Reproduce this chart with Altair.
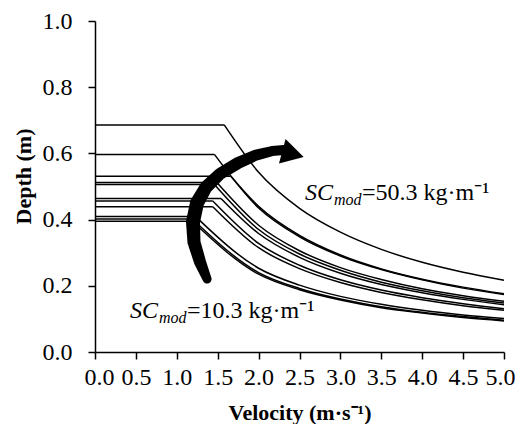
import altair as alt
import pandas as pd

# ---- data ----
plateau_depth = [0.686, 0.597, 0.531, 0.512, 0.506, 0.464, 0.456, 0.439, 0.409, 0.402, 0.395]
break_velocity = [1.58, 1.46, 1.66, 1.49, 1.46, 1.54, 1.44, 1.44, 1.23, 1.19, 1.19]
decay_velocity = [2.0, 2.5, 3.0, 3.5, 4.0, 4.5, 5.0]
decay_depth = [
    [0.543, 0.434, 0.362, 0.310, 0.271, 0.241, 0.217],
    [0.435, 0.348, 0.290, 0.249, 0.218, 0.193, 0.174],
    [0.440, 0.352, 0.293, 0.251, 0.220, 0.196, 0.176],
    [0.383, 0.306, 0.255, 0.219, 0.191, 0.170, 0.153],
    [0.370, 0.296, 0.247, 0.211, 0.185, 0.164, 0.148],
    [0.358, 0.286, 0.238, 0.204, 0.179, 0.159, 0.143],
    [0.328, 0.262, 0.218, 0.187, 0.164, 0.146, 0.131],
    [0.315, 0.252, 0.210, 0.180, 0.158, 0.140, 0.126],
    [0.253, 0.202, 0.168, 0.144, 0.126, 0.112, 0.101],
    [0.240, 0.192, 0.160, 0.137, 0.120, 0.107, 0.096],
    [0.235, 0.188, 0.157, 0.134, 0.118, 0.104, 0.094],
]

x_ticks = [0.0, 0.5, 1.0, 1.5, 2.0, 2.5, 3.0, 3.5, 4.0, 4.5, 5.0]
y_ticks = [0.0, 0.2, 0.4, 0.6, 0.8, 1.0]

# curved arrow (annotation) path in data units, with stroke width
arrow_v = [1.370, 1.284, 1.210, 1.198, 1.247, 1.357, 1.528, 1.748, 1.968, 2.164, 2.311]
arrow_d = [0.2205, 0.272, 0.332, 0.393, 0.450, 0.498, 0.538, 0.571, 0.595, 0.607, 0.610]
arrow_w = [9, 12, 13, 14, 14, 13, 12, 12, 11, 10, 10]
head_v = [2.42]
head_d = [0.598]

# annotation text pieces
ann_text = ["SC", "mod", "=50.3 kg·m⁻¹", "SC", "mod", "=10.3 kg·m⁻¹"]
ann_v = [2.567, 2.922, 3.264, 0.428, 0.782, 1.125]
ann_d = [0.459, 0.444, 0.459, 0.1027, 0.0876, 0.1027]
ann_size = [24, 16, 24, 24, 16, 24]
ann_style = ["italic", "italic", "normal", "italic", "italic", "normal"]

# ---- build tables ----
plateau_rows = []
decay_rows = []
for i, (pd_, bv) in enumerate(zip(plateau_depth, break_velocity)):
    plateau_rows.append({"s": i, "v": 0.0, "d": pd_})
    plateau_rows.append({"s": i, "v": bv, "d": pd_})
    decay_rows.append({"s": i, "v": bv, "d": pd_})
    for v, d in zip(decay_velocity, decay_depth[i]):
        decay_rows.append({"s": i, "v": v, "d": d})
plateau_df = pd.DataFrame(plateau_rows)
decay_df = pd.DataFrame(decay_rows)
arrow_df = pd.DataFrame({"v": arrow_v, "d": arrow_d, "w": arrow_w, "o": list(range(len(arrow_v)))})
head_df = pd.DataFrame({"v": head_v, "d": head_d})
ann_df = pd.DataFrame({"t": ann_text, "v": ann_v, "d": ann_d, "fs": ann_size, "st": ann_style})

FONT = "Liberation Serif"

x_scale = alt.Scale(domain=[0, 5], nice=False, zero=False)
y_scale = alt.Scale(domain=[0, 1], nice=False, zero=False)

x_enc = alt.X(
    "v:Q", scale=x_scale,
    axis=alt.Axis(values=x_ticks, format=".1f", title="Velocity (m·s⁻¹)", grid=False,
                  tickSize=7, labelPadding=6, labelOverlap=False, labelFlush=True,
                  labelFlushOffset=11,
                  titleY=67, titleBaseline="alphabetic", titleFontSize=22),
)
y_enc = alt.Y(
    "d:Q", scale=y_scale,
    axis=alt.Axis(values=y_ticks, format=".1f", title="Depth (m)", grid=False,
                  tickSize=7, labelPadding=16, labelOverlap=False, labelFlush=False,
                  titleX=-72, titleY=155, titleAngle=270, titleAlign="center",
                  titleBaseline="middle", titleFontSize=22),
)

plateau = alt.Chart(plateau_df).mark_line(color="black", strokeWidth=1.5).encode(
    x=x_enc, y=y_enc, detail="s:N"
)
decay = alt.Chart(decay_df).mark_line(color="black", strokeWidth=1.5, interpolate="monotone").encode(
    x="v:Q", y="d:Q", detail="s:N"
)
arrow = alt.Chart(arrow_df).mark_trail(color="black").encode(
    x="v:Q", y="d:Q", order="o:Q", size=alt.Size("w:Q", scale=None, legend=None)
)
head = alt.Chart(head_df).mark_point(
    shape="triangle-right", filled=True, color="black", opacity=1, size=650, angle=15
).encode(x="v:Q", y="d:Q")

texts = []
for st in ["italic", "normal"]:
    for fs in [24, 16]:
        sub = ann_df[(ann_df.st == st) & (ann_df.fs == fs)]
        if len(sub) == 0:
            continue
        texts.append(
            alt.Chart(sub).mark_text(
                font=FONT, fontSize=fs, fontStyle=st, align="left", baseline="alphabetic", color="black"
            ).encode(x="v:Q", y="d:Q", text="t:N")
        )

chart = alt.layer(plateau, decay, arrow, head, *texts).properties(
    width=409, height=331,
    autosize=alt.AutoSizeParams(type="none"),
    padding={"left": 87, "top": 13, "right": 11, "bottom": 72},
).configure_view(stroke=None).configure_axis(
    labelFont=FONT, titleFont=FONT, labelFontSize=24,
    labelColor="black", titleColor="black", domainColor="black", tickColor="black",
    domainWidth=1.5, tickWidth=1.5, titleFontWeight="bold",
)

chart.save("out.html", embed_options={"renderer": "svg", "actions": False})
